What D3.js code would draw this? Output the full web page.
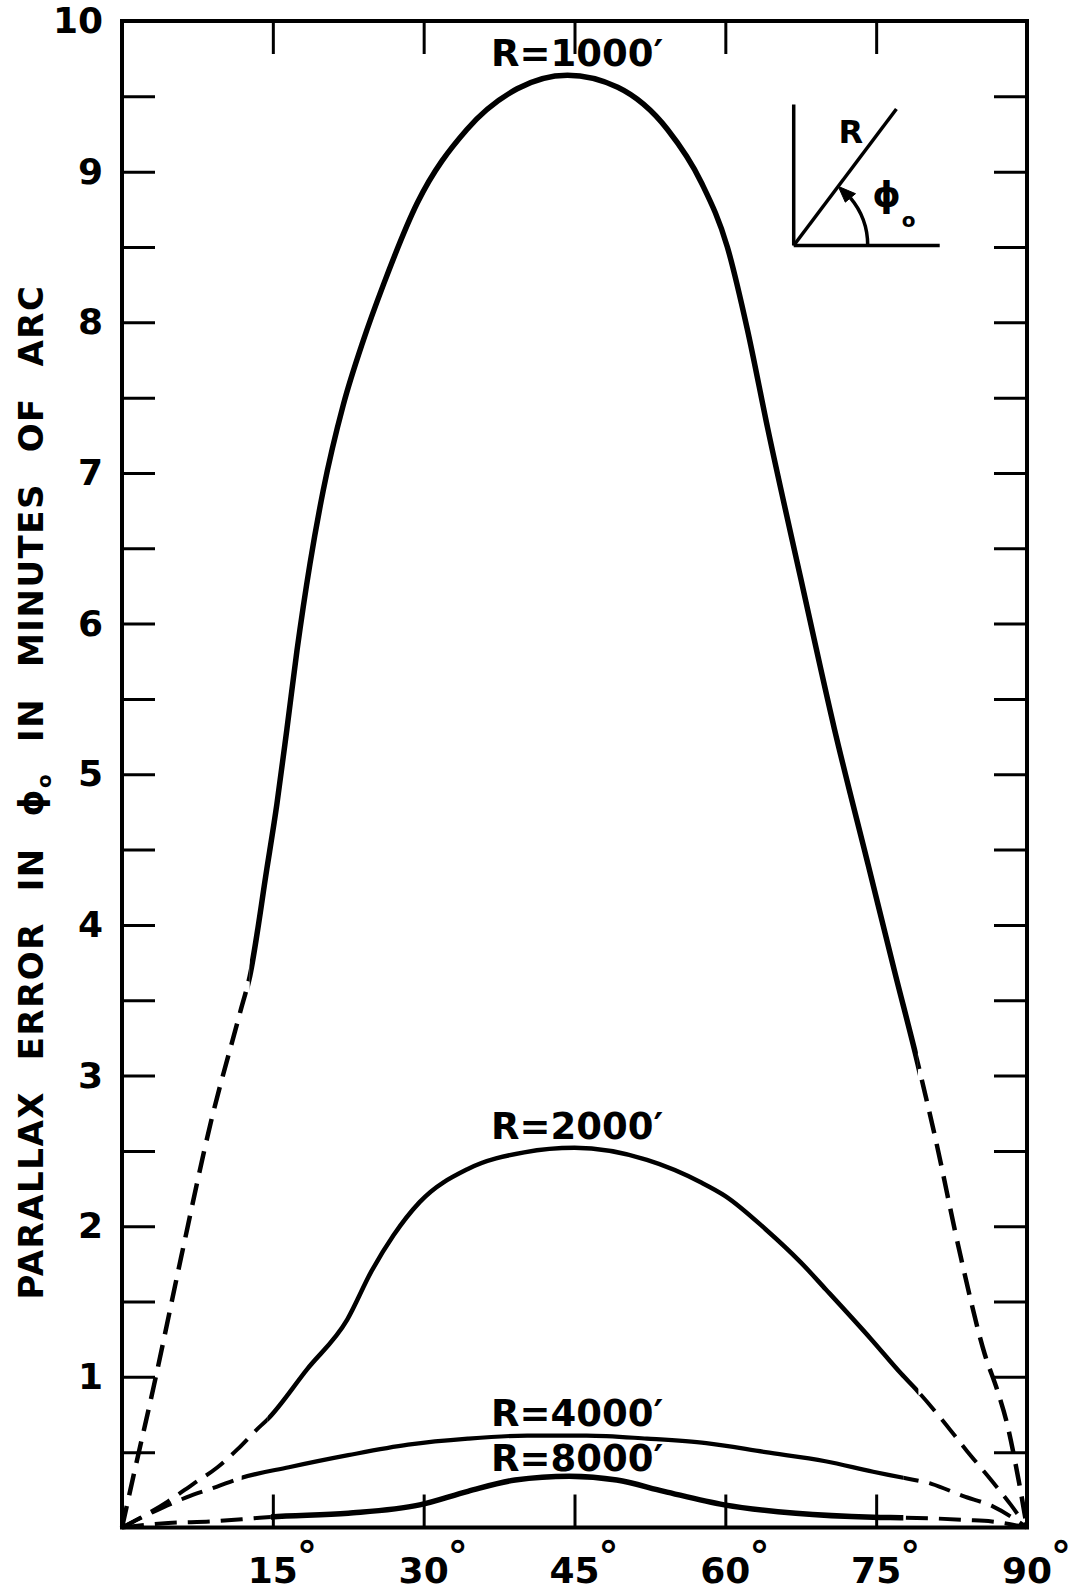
<!DOCTYPE html>
<html>
<head>
<meta charset="utf-8">
<script src="https://cdn.jsdelivr.net/npm/d3@7"></script>
<style>
  body { margin: 0; background: #fff; }
  text { font-family: "DejaVu Sans", sans-serif; font-weight: bold; fill: #000; }
  .tick line { stroke: #000; stroke-width: 3; }
</style>
</head>
<body>
<div id="chart"></div>
<script>
// кут phi0 у градусах -> похибка в хвилинах дуги
const r1000 = [[0, 0], [1.2, 0.36], [3.2, 0.95], [5.9, 1.8], [8.8, 2.68], [11.75, 3.42],
  [12.7, 3.66], [14.4, 4.37], [15.4, 4.8], [16.4, 5.3], [17.4, 5.82], [18.7, 6.4], [20, 6.88],
  [22, 7.45], [24, 7.88], [26, 8.25], [29.35, 8.79], [34.3, 9.28], [39.3, 9.55], [44.3, 9.64],
  [49.3, 9.56], [54.25, 9.28], [57.6, 8.93], [60.2, 8.5], [62.2, 7.95], [64.2, 7.3], [67.5, 6.3],
  [70.85, 5.3], [74.2, 4.4], [76.8, 3.7], [79.15, 3.08], [80.8, 2.61], [83.4, 1.8], [85.8, 1.15],
  [87.1, 0.9], [88.05, 0.68], [89.15, 0.32], [90, 0]];
const r2000 = [[0, 0], [4.5, 0.17], [7.1, 0.29], [9.5, 0.4], [11.5, 0.52], [13.4, 0.65], [14.5, 0.72],
  [18.4, 1.05], [22.4, 1.38], [24.8, 1.7], [27, 1.94], [29.6, 2.16], [34.4, 2.38], [40, 2.49],
  [45, 2.52], [52.2, 2.44], [57.6, 2.29], [60, 2.2], [64, 1.98], [67.5, 1.76], [70, 1.58],
  [74.5, 1.25], [77.5, 1.02], [79.2, 0.9], [81.5, 0.72], [84, 0.51], [86, 0.35], [88.4, 0.15], [90, 0]];
const r4000 = [[0, 0], [3, 0.1], [6.4, 0.2], [9.4, 0.27], [11.9, 0.33], [16.6, 0.4], [22.5, 0.48],
  [28.45, 0.55], [34.4, 0.59], [40.3, 0.61], [46.2, 0.61], [52.2, 0.59], [58.1, 0.56], [64, 0.5],
  [69.95, 0.44], [74.7, 0.37], [77.7, 0.33], [80.5, 0.29], [83.6, 0.21], [86.6, 0.14], [90, 0]];
const r8000 = [[0, 0], [4.6, 0.03], [8.8, 0.04], [12.9, 0.06], [14.8, 0.07], [22.5, 0.095], [29.6, 0.15],
  [34.4, 0.24], [39.1, 0.315], [44.5, 0.34], [49.2, 0.315], [53.9, 0.24], [59.9, 0.15], [67, 0.094],
  [74.7, 0.068], [77.7, 0.065], [80.8, 0.06], [84, 0.05], [86.5, 0.04], [90, 0]];

const seriesNames = ["R=1000′", "R=2000′", "R=4000′", "R=8000′"];
const yTickLabels = [1, 2, 3, 4, 5, 6, 7, 8, 9, 10];
const xTickLabels = [15, 30, 45, 60, 75, 90];
const xTicks = [15, 30, 45, 60, 75];
const yTicks = d3.range(0.5, 10, 0.5);

const width = 1075, height = 1594;
const x = d3.scaleLinear().domain([0, 90]).range([122, 1027]);
const y = d3.scaleLinear().domain([0, 10]).range([1527.5, 21]);

const svg = d3.select("#chart").append("svg")
  .attr("width", width).attr("height", height);

// Суцільна частина кривої та позиція підпису
const series = [
  {data: r1000, solid: [12.7, 79.15], w: 5.5, dw: 4.5, lab: [36.7, 9.7]},
  {data: r2000, solid: [14.5, 79.2], w: 4.5, dw: 4, lab: [36.7, 2.58]},
  {data: r4000, solid: [11.9, 77.7], w: 4.2, dw: 4, lab: [36.7, 0.674]},
  {data: r8000, solid: [14.8, 77.7], w: 5.5, dw: 4, lab: [36.7, 0.375]}
];

const defs = svg.append("defs");
const line = d3.line().x(d => x(d[0])).y(d => y(d[1])).curve(d3.curveMonotoneX);

series.forEach((s, i) => {
  const a = x(s.solid[0]), b = x(s.solid[1]);
  defs.append("clipPath").attr("id", "sol" + i)
    .append("rect").attr("x", a).attr("y", 0).attr("width", b - a).attr("height", height);
  const cd = defs.append("clipPath").attr("id", "dash" + i);
  cd.append("rect").attr("x", 0).attr("y", 0).attr("width", a).attr("height", height);
  cd.append("rect").attr("x", b).attr("y", 0).attr("width", width - b).attr("height", height);

  svg.append("path").datum(s.data).attr("d", line)
    .attr("fill", "none").attr("stroke", "#000").attr("stroke-width", s.dw)
    .attr("stroke-dasharray", "22,11").attr("clip-path", `url(#dash${i})`);
  svg.append("path").datum(s.data).attr("d", line)
    .attr("fill", "none").attr("stroke", "#000").attr("stroke-width", s.w)
    .attr("stroke-linecap", "round").attr("clip-path", `url(#sol${i})`);

  svg.append("text").attr("x", x(s.lab[0])).attr("y", y(s.lab[1]))
    .attr("font-size", 37).text(seriesNames[i]);
});

// Рамка та поділки
const noDomain = g => g.select(".domain").remove();
svg.append("g").attr("transform", `translate(${x(0)},0)`)
  .call(d3.axisLeft(y).tickValues(yTicks).tickSize(-33).tickFormat("")).call(noDomain);
svg.append("g").attr("transform", `translate(${x(90)},0)`)
  .call(d3.axisRight(y).tickValues(yTicks).tickSize(-33).tickFormat("")).call(noDomain);
svg.append("g").attr("transform", `translate(0,${y(10)})`)
  .call(d3.axisTop(x).tickValues(xTicks).tickSize(-33).tickFormat("")).call(noDomain);
svg.append("g").attr("transform", `translate(0,${y(0)})`)
  .call(d3.axisBottom(x).tickValues(xTicks).tickSize(-33).tickFormat("")).call(noDomain);

svg.append("rect").attr("x", x(0)).attr("y", y(10))
  .attr("width", x(90) - x(0)).attr("height", y(0) - y(10))
  .attr("fill", "none").attr("stroke", "#000").attr("stroke-width", 4);

// Підписи осі Y
const yl = svg.append("g").attr("transform", `translate(${x(0)},0)`)
  .call(d3.axisLeft(y).tickValues(yTickLabels).tickSize(0).tickPadding(19).tickFormat(d3.format("d")))
  .call(noDomain);
yl.selectAll("text").attr("font-size", 36).attr("font-family", null);

// Підписи осі X з градусами
const xl = svg.append("g");
xTickLabels.forEach(v => {
  const t = xl.append("text").attr("x", x(v)).attr("y", 1583)
    .attr("text-anchor", "middle").attr("font-size", 36).text(v);
  const w = t.node().getComputedTextLength();
  xl.append("text").attr("x", x(v) + w / 2 - 1).attr("y", 1570)
    .attr("font-size", 40).text("°");
});

// Назва осі Y: проміжки між словами підганяємо під довжину
const title = svg.append("text")
  .attr("transform", `translate(43,792) rotate(-90)`)
  .attr("text-anchor", "middle").attr("font-size", 34).attr("letter-spacing", 1.5);
title.append("tspan").text("PARALLAX ERROR IN ϕ");
title.append("tspan").attr("font-size", 20).attr("dy", 8).text("o");
title.append("tspan").attr("dy", -8).text(" IN MINUTES OF ARC");
const natural = title.node().getComputedTextLength();
title.attr("word-spacing", Math.max(0, (1015 - natural) / 7));

// Схема кута у правому верхньому куті
const inset = svg.append("g").attr("transform", `translate(${x(66.8)},${y(8.51)})`)
  .attr("stroke", "#000").attr("fill", "none").attr("stroke-width", 3.5);
inset.append("line").attr("x1", 0).attr("y1", 0).attr("x2", 0).attr("y2", -141);
inset.append("line").attr("x1", 0).attr("y1", 0).attr("x2", 146).attr("y2", 0);
inset.append("line").attr("x1", 0).attr("y1", 0).attr("x2", 102.7).attr("y2", -136.4);
const rr = 74, a1 = 40 * Math.PI / 180;
inset.append("path")
  .attr("d", `M${rr},0 A${rr},${rr} 0 0 0 ${rr * Math.cos(a1)},${-rr * Math.sin(a1)}`);
inset.append("path").attr("fill", "#000").attr("stroke-width", 1)
  .attr("d", "M44.5,-59.1 L61.8,-51.8 L51.6,-43.3 Z");
inset.append("text").attr("x", 57).attr("y", -102).attr("text-anchor", "middle")
  .attr("stroke", "none").attr("font-size", 32).text("R");
inset.append("text").attr("x", 93).attr("y", -38).attr("text-anchor", "middle")
  .attr("stroke", "none").attr("font-size", 36).text("ϕ");
inset.append("text").attr("x", 108).attr("y", -18)
  .attr("stroke", "none").attr("font-size", 20).text("o");
</script>
</body>
</html>
